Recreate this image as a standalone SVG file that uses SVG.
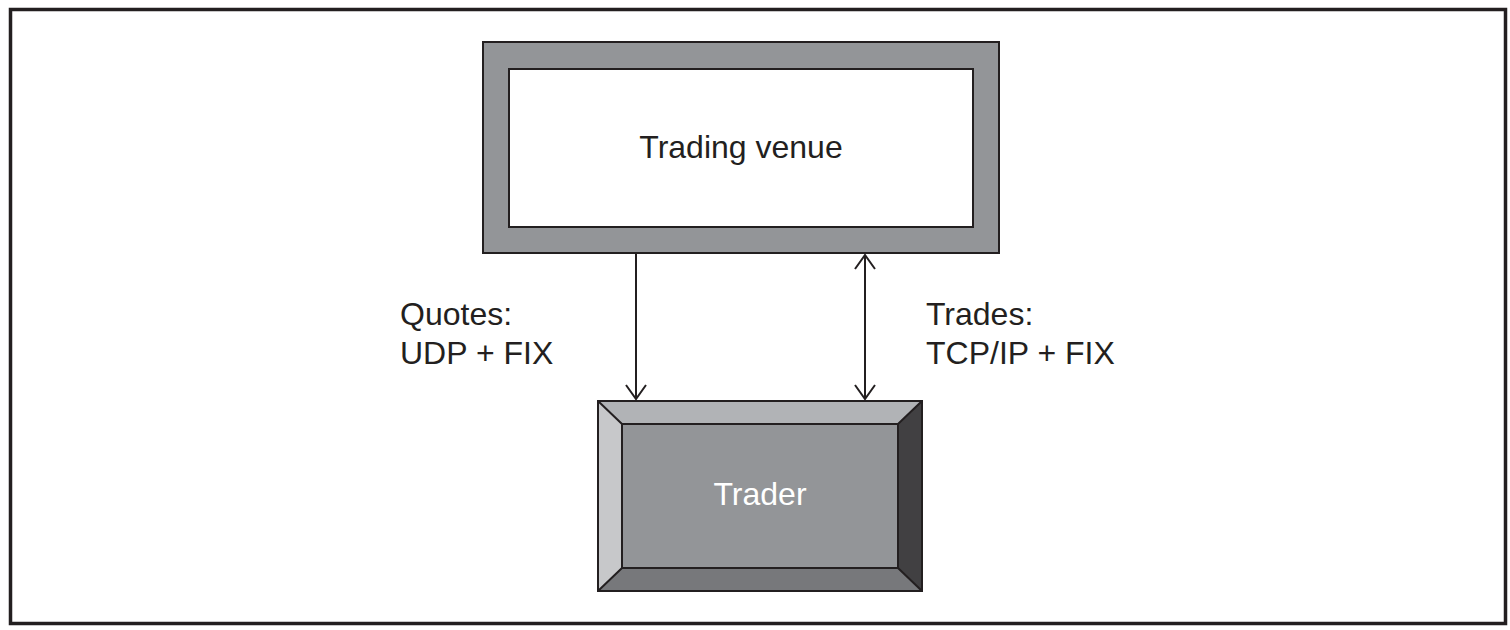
<svg xmlns="http://www.w3.org/2000/svg" width="1510" height="630" viewBox="0 0 1510 630">
<defs>
<style>
.t{font-family:"Liberation Sans",Arial,sans-serif;font-size:32px;fill:#231f20}
.ln{stroke:#231f20;stroke-width:2;fill:none}
.bx{stroke:#231f20;stroke-width:2}
</style>
<marker id="ah" viewBox="0 0 20 22" refX="15" refY="11" markerWidth="20" markerHeight="22" markerUnits="userSpaceOnUse" orient="auto-start-reverse">
<path d="M1,1 L15,11 L1,21" fill="none" stroke="#231f20" stroke-width="2"/>
</marker>
</defs>
<rect width="1510" height="630" fill="#ffffff"/>
<rect x="10.5" y="9.5" width="1495" height="614" fill="none" stroke="#231f20" stroke-width="3.5"/>
<g id="venue">
<rect class="bx" x="483" y="42" width="516" height="211" fill="#939598"/>
<rect class="bx" x="509" y="69" width="464" height="158" fill="#ffffff"/>
<text class="t" x="741" y="158" text-anchor="middle">Trading venue</text>
</g>
<g id="trader">
<polygon points="598,401 922,401 898,424 622,424" fill="#b1b3b6"/>
<polygon points="598,401 622,424 622,568 598,591" fill="#c7c8ca"/>
<polygon points="922,401 922,591 898,568 898,424" fill="#414042"/>
<polygon points="598,591 622,568 898,568 922,591" fill="#77787b"/>
<rect x="622" y="424" width="276" height="144" fill="#939598"/>
<rect class="bx" x="598" y="401" width="324" height="190" fill="none"/>
<rect class="bx" x="622" y="424" width="276" height="144" fill="none"/>
<path class="bx" d="M598,401 L622,424 M922,401 L898,424 M598,591 L622,568 M922,591 L898,568"/>
<text class="t" x="760" y="505" text-anchor="middle" style="fill:#ffffff">Trader</text>
</g>
<g id="connectors">
<line class="ln" x1="636" y1="254" x2="636" y2="399" marker-end="url(#ah)"/>
<line class="ln" x1="865" y1="255" x2="865" y2="399" marker-start="url(#ah)" marker-end="url(#ah)"/>
</g>
<g id="labels">
<text class="t" x="400" y="325">Quotes:</text>
<text class="t" x="400" y="364">UDP + FIX</text>
<text class="t" x="926" y="325">Trades:</text>
<text class="t" x="926" y="364">TCP/IP + FIX</text>
</g>
</svg>
